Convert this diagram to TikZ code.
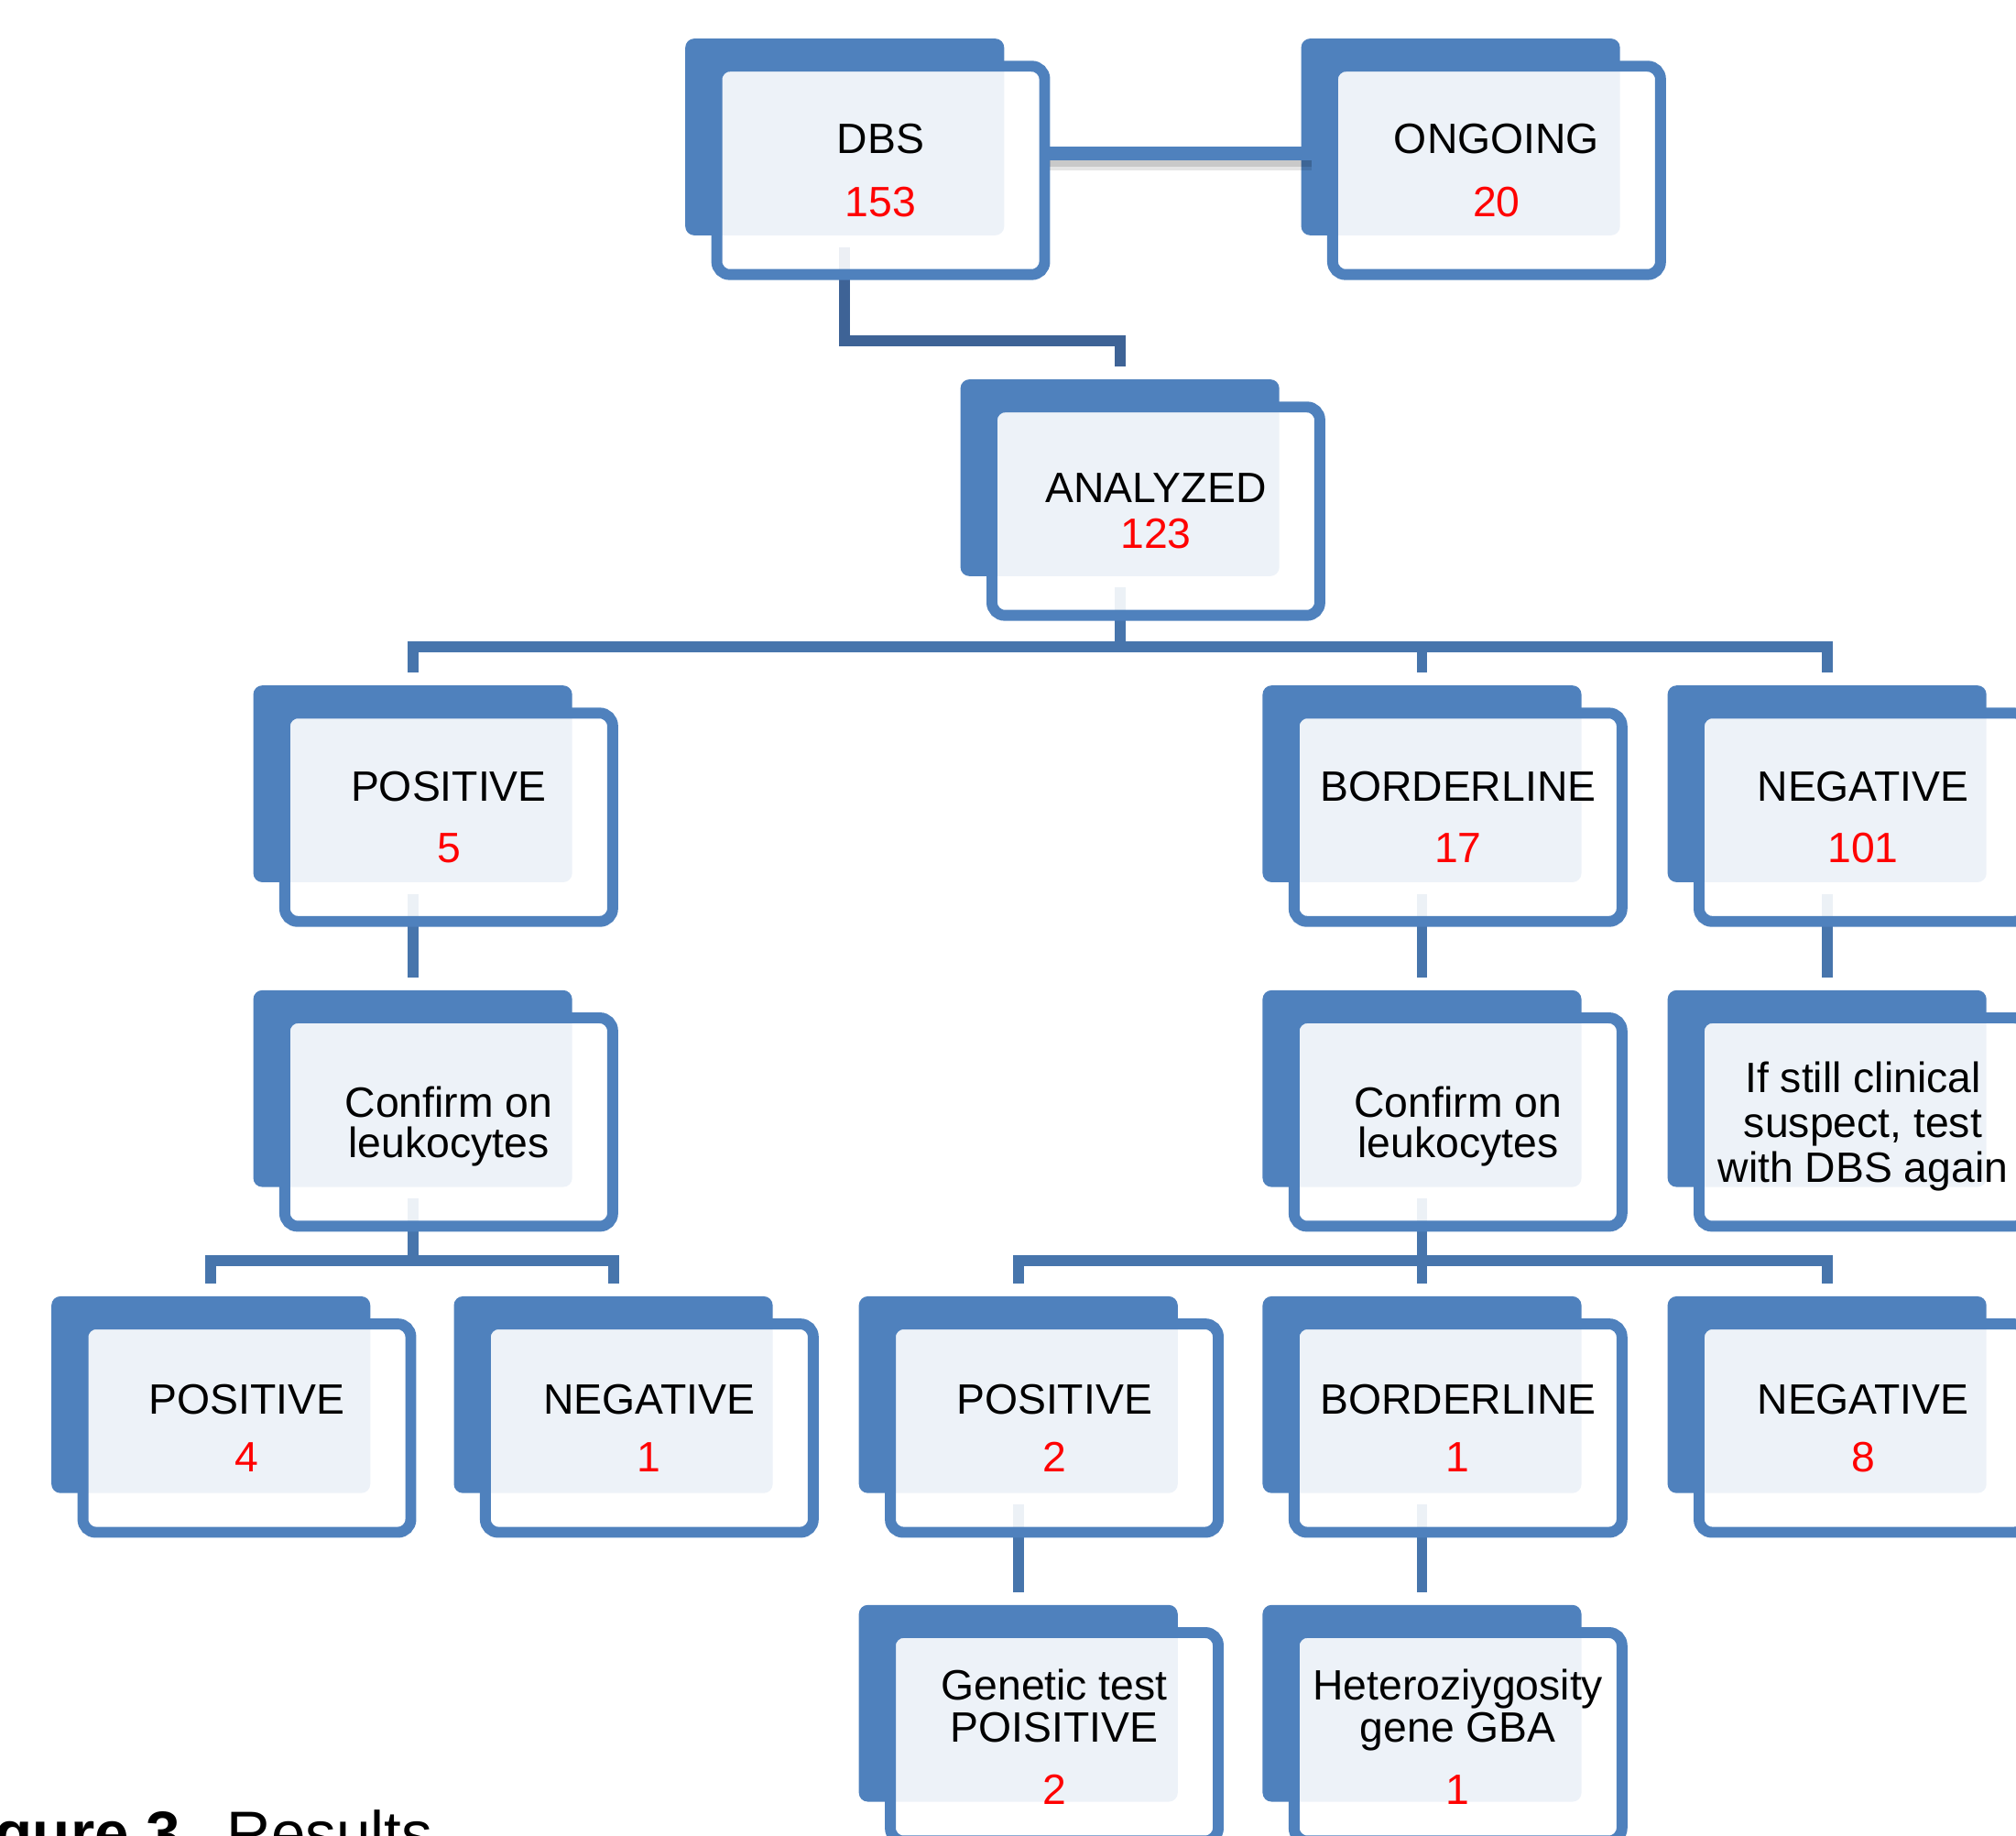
\documentclass[tikz,border=0pt]{standalone}
\usepackage{fontspec}
\setmainfont{Liberation Sans}
\usetikzlibrary{calc}
\definecolor{boxblue}{RGB}{79,129,189}
\definecolor{linkblue}{RGB}{71,117,172}
\definecolor{darklink}{RGB}{62,99,150}
\definecolor{numred}{RGB}{255,0,0}
\newcommand\rednum[1]{\textcolor{numred}{#1}}
\tikzset{
  backbox/.style={rectangle, fill=boxblue, rounded corners=3.5pt, minimum width=124pt,
    minimum height=76.5pt, inner sep=0pt, outer sep=0pt, anchor=north west},
  frontbox/.style={rectangle, draw=boxblue, line width=4.25pt, fill=white, fill opacity=0.9,
    text opacity=1, rounded corners=5pt, minimum width=127.5pt, minimum height=81pt,
    inner sep=0pt, outer sep=0pt, align=center, font=\fontsize{16.5}{17}\selectfont},
  link/.style={draw=linkblue, line width=4.25pt},
  darkline/.style={draw=darklink, line width=4.25pt},
  captext/.style={inner sep=0pt, font=\fontsize{24}{28}\selectfont}
}
\begin{document}
\begin{tikzpicture}[x=0.5pt,y=-0.5pt]
\useasboundingbox (0,0) rectangle (1568,1427);
\clip (0,0) rectangle (1568,1427);
% back boxes
\node[backbox] (dbs) at (533,30) {};
\node[backbox] (ongoing) at (1012,30) {};
\node[backbox] (analyzed) at (747,295) {};
\node[backbox] (pos1) at (197,533) {};
\node[backbox] (bord1) at (982,533) {};
\node[backbox] (neg1) at (1297,533) {};
\node[backbox] (conf1) at (197,770) {};
\node[backbox] (conf2) at (982,770) {};
\node[backbox] (still) at (1297,770) {};
\node[backbox] (pos2) at (40,1008) {};
\node[backbox] (neg2) at (353,1008) {};
\node[backbox] (pos3) at (668,1008) {};
\node[backbox] (bord2) at (982,1008) {};
\node[backbox] (neg3) at (1297,1008) {};
\node[backbox] (gen) at (668,1248) {};
\node[backbox] (het) at (982,1248) {};
% connectors
\draw[darkline] ([yshift=-4.5pt]dbs.south) |- ([yshift=15pt]analyzed.north) -- ([yshift=5pt]analyzed.north);
\foreach \c in {pos1,bord1,neg1}
  \draw[link] ([yshift=-4.5pt]analyzed.south) |- ([yshift=15pt]\c.north) -- ([yshift=5pt]\c.north);
\draw[link] ([yshift=-4.5pt]pos1.south) -- ([yshift=5pt]conf1.north);
\draw[link] ([yshift=-4.5pt]bord1.south) -- ([yshift=5pt]conf2.north);
\draw[link] ([yshift=-4.5pt]neg1.south) -- ([yshift=5pt]still.north);
\foreach \c in {pos2,neg2}
  \draw[link] ([yshift=-4.5pt]conf1.south) |- ([yshift=14pt]\c.north) -- ([yshift=5pt]\c.north);
\foreach \c in {pos3,bord2,neg3}
  \draw[link] ([yshift=-4.5pt]conf2.south) |- ([yshift=14pt]\c.north) -- ([yshift=5pt]\c.north);
\draw[link] ([yshift=-4.5pt]pos3.south) -- ([yshift=5pt]gen.north);
\draw[link] ([yshift=-4.5pt]bord2.south) -- ([yshift=5pt]het.north);
% front boxes
\node[frontbox] (dbsF) at ([shift={(152,102.5)}]dbs.north west) {DBS\\[7.5pt]\rednum{153}};
\node[frontbox] (ongoingF) at ([shift={(152,102.5)}]ongoing.north west) {ONGOING\\[7.5pt]\rednum{20}};
\node[frontbox] (analyzedF) at ([shift={(152,102.5)}]analyzed.north west) {ANALYZED\\[1pt]\rednum{123}};
\node[frontbox] (pos1F) at ([shift={(152,102.5)}]pos1.north west) {POSITIVE\\[7pt]\rednum{5}};
\node[frontbox] (bord1F) at ([shift={(152,102.5)}]bord1.north west) {BORDERLINE\\[7pt]\rednum{17}};
\node[frontbox] (neg1F) at ([shift={(152,102.5)}]neg1.north west) {NEGATIVE\\[7pt]\rednum{101}};
\node[frontbox, text depth=0pt] (conf1F) at ([shift={(152,102.5)}]conf1.north west) {Confirm on\\[-1pt]leukocytes\strut};
\node[frontbox, text depth=0pt] (conf2F) at ([shift={(152,102.5)}]conf2.north west) {Confirm on\\[-1pt]leukocytes\strut};
\node[frontbox, text depth=0pt] (stillF) at ([shift={(152,102.5)}]still.north west) {If still clinical\\[0.5pt]suspect, test\\[0.5pt]with DBS again\strut};
\node[frontbox] (pos2F) at ([shift={(152,102.5)}]pos2.north west) {POSITIVE\\[5.5pt]\rednum{4}};
\node[frontbox] (neg2F) at ([shift={(152,102.5)}]neg2.north west) {NEGATIVE\\[5.5pt]\rednum{1}};
\node[frontbox] (pos3F) at ([shift={(152,102.5)}]pos3.north west) {POSITIVE\\[5.5pt]\rednum{2}};
\node[frontbox] (bord2F) at ([shift={(152,102.5)}]bord2.north west) {BORDERLINE\\[5.5pt]\rednum{1}};
\node[frontbox] (neg3F) at ([shift={(152,102.5)}]neg3.north west) {NEGATIVE\\[5.5pt]\rednum{8}};
\node[frontbox] (genF) at ([shift={(152,102.5)}]gen.north west) {Genetic test\\[-0.5pt]POISITIVE\\[7pt]\rednum{2}};
\node[frontbox] (hetF) at ([shift={(152,102.5)}]het.north west) {Heteroziygosity\\[-0.5pt]gene GBA\\[7pt]\rednum{1}};
% DBS -- ONGOING
\coordinate (m) at ($(dbs.center)!0.5!(dbsF.center)$);
\draw[black, opacity=0.12, line width=5.3pt] ($(dbsF.east |- m)+(2.1pt,-2.5pt)$) -- ($(ongoing.west |- m)+(4pt,-2.5pt)$);
\draw[black, opacity=0.10, line width=5.3pt] ($(dbsF.east |- m)+(2.1pt,-4pt)$) -- ($(ongoing.west |- m)+(4pt,-4pt)$);
\draw[boxblue, line width=5.3pt] (dbsF.east |- m) -- ($(ongoing.west |- m)+(4pt,0)$);
% caption
\node[captext, anchor=base west] (cap) at (176,1442) {Results};
\node[captext, anchor=base east, font=\fontsize{24}{28}\selectfont\bfseries] (fig) at ($(cap.base west)+(-22,0)$) {Figure 3.};
\end{tikzpicture}
\end{document}
